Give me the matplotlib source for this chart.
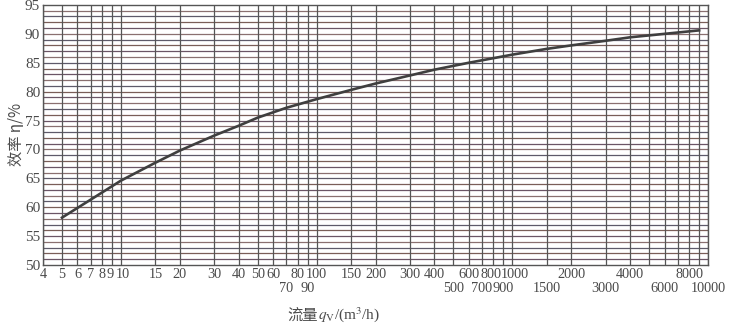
import numpy as np
import matplotlib
matplotlib.use("Agg")
import matplotlib.pyplot as plt
import matplotlib.transforms as mtransforms
from matplotlib.ticker import FixedLocator, FixedFormatter

# efficiency curve
flow = [5, 7, 10, 15, 20, 30, 40, 50, 70, 100, 150, 200, 300, 400, 600,
        1000, 1500, 2000, 3000, 4000, 6000, 9000]
eff = [58.2, 61.3, 64.6, 67.7, 69.8, 72.4, 74.1, 75.5, 77.2, 78.7, 80.3,
       81.4, 82.8, 83.8, 85.0, 86.4, 87.4, 88.0, 88.8, 89.4, 90.0, 90.6]

# labelled ticks, upper row and lower row
top_ticks = [4, 5, 6, 7, 8, 9, 10, 15, 20, 30, 40, 50, 60, 80, 100, 150, 200,
             300, 400, 600, 800, 1000, 2000, 4000, 8000]
low_ticks = [70, 90, 500, 700, 900, 1500, 3000, 6000, 10000]
# vertical rulings
x_grid = [4, 5, 6, 7, 8, 9, 10, 15, 20, 30, 40, 50, 60, 70, 80, 90, 100, 150,
          200, 300, 400, 500, 600, 700, 800, 900, 1000, 1500, 2000, 3000,
          4000, 5000, 6000, 7000, 8000, 9000, 10000]
y_ticks = [50, 55, 60, 65, 70, 75, 80, 85, 90, 95]

plt.rcParams['mathtext.fontset'] = 'stix'
serif = 'Liberation Serif'
cjk = ['Noto Sans CJK SC', 'DejaVu Sans']
txt_col = '#4a4a4a'

fig = plt.figure(figsize=(7.33, 3.29), dpi=100)
ax = fig.add_axes([0.0587, 0.1945, 0.9073, 0.7905])
ax.set_xscale('log')
ax.set_xlim(4, 10000)
ax.set_ylim(50, 95)

# horizontal rulings every 1 %, scan-like tint
hcols = ['#6b5566', '#7a5e58', '#5e5a6a', '#8a7070']
for i, yv in enumerate(np.arange(51, 95, 1)):
    ax.axhline(yv, color=hcols[i % len(hcols)], lw=0.9, zorder=1)
for xv in x_grid:
    ax.axvline(xv, color='#555555', lw=0.9, zorder=1)

ax.plot(flow, eff, color='#3f3f3f', lw=1.9, zorder=3)

ax.xaxis.set_major_locator(FixedLocator(top_ticks))
ax.xaxis.set_major_formatter(FixedFormatter([str(t) for t in top_ticks]))
ax.xaxis.set_minor_locator(FixedLocator(low_ticks))
ax.xaxis.set_minor_formatter(FixedFormatter([str(t) for t in low_ticks]))
ax.tick_params(axis='x', which='major', length=0, pad=2)
ax.tick_params(axis='x', which='minor', length=0, pad=12)
ax.set_yticks(y_ticks)
ax.tick_params(axis='y', length=0, pad=2)
for lab in ax.get_xticklabels(which='both'):
    lab.set_fontfamily(serif)
    lab.set_fontsize(10.3)
    lab.set_color(txt_col)
for lab in ax.get_yticklabels():
    lab.set_fontfamily(serif)
    lab.set_fontsize(11)
    lab.set_color(txt_col)

# crowded labels: nudge apart a little so they just touch, as in the print
nudge = {9: -1.5, 10: 1.5, 800: -2.0, 1000: 2.0}
for tick, val in zip(ax.xaxis.get_major_ticks(), top_ticks):
    if val in nudge:
        lab = tick.label1
        lab.set_transform(lab.get_transform() + mtransforms.ScaledTranslation(
            nudge[val] / 72, 0, fig.dpi_scale_trans))

for s in ax.spines.values():
    s.set_color('#555555')
    s.set_linewidth(1.0)

fig.text(0.022, 0.59, '效率 η/%', rotation=90, ha='center', va='center',
         family=cjk, fontsize=11, color=txt_col)
fig.text(0.434, 0.043, '流量', ha='right', va='center', family=cjk,
         fontsize=11, color=txt_col)
fig.text(0.434, 0.043, r'$q_\mathrm{V}$/(m$^3$/h)', ha='left', va='center',
         family=serif, fontsize=11, color=txt_col)

fig.savefig('out.png', dpi=100, facecolor='white')
